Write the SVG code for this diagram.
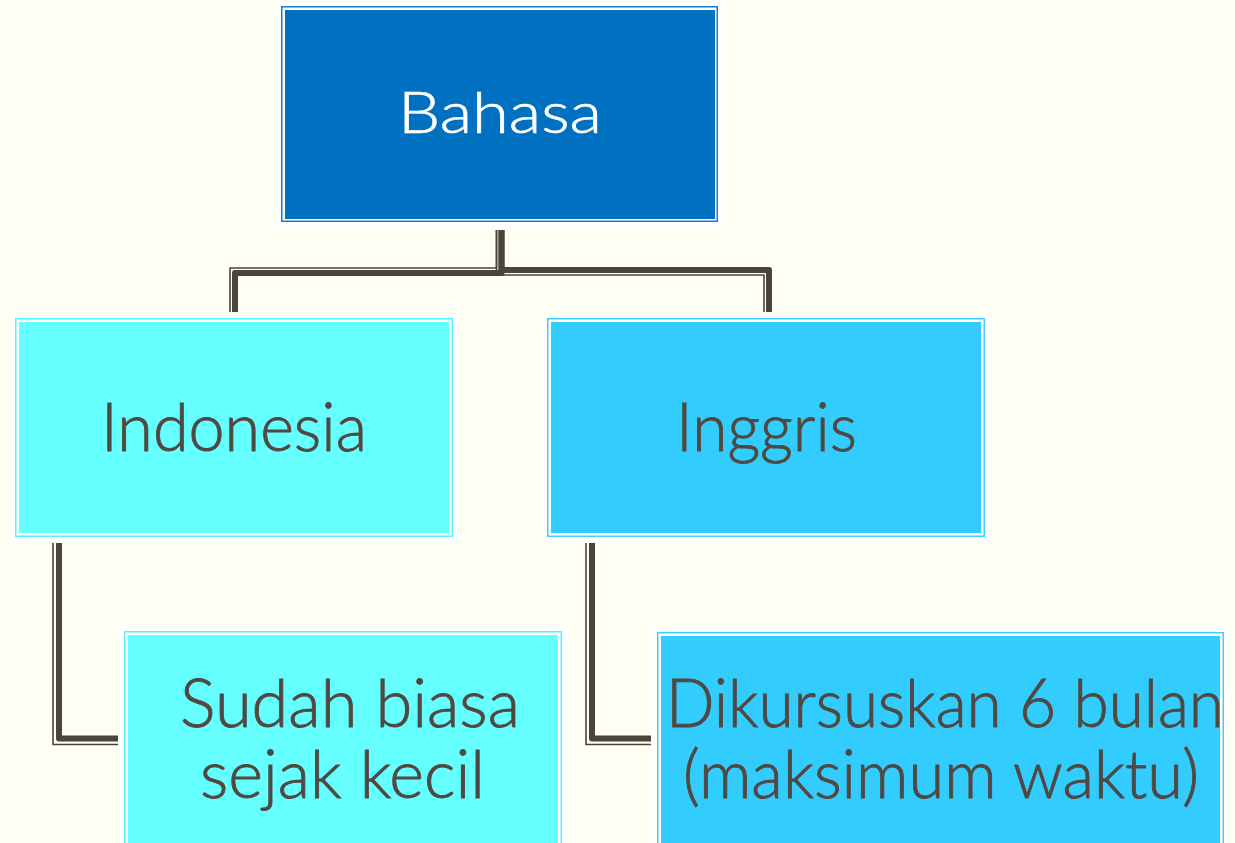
<svg xmlns="http://www.w3.org/2000/svg" width="1235" height="843" viewBox="0 0 1235 843">
<style>
.halo{fill:#ffffff}
.frame{fill:none;stroke-width:1.5}
.t{font-family:Lato,"Open Sans","Liberation Sans",sans-serif;font-weight:300;fill:#514842;stroke:#514842;stroke-width:0.9;text-anchor:middle;font-size:67px}
.tw{fill:#ffffff;stroke:#ffffff;stroke-width:0.7;font-size:57px}
.thick{fill:none;stroke:#4b433d;stroke-width:6;stroke-linejoin:round}
.thin{fill:none;stroke:#4b433d;stroke-width:1.6;stroke-linejoin:round}
</style>
<rect x="0" y="0" width="1235" height="843" fill="#fffff4"/>
<g id="connectors">
<path class="thick" d="M501.5,230 V273 H235 V312"/>
<path class="thin" d="M496.5,230 V268 H230 V312"/>
<path class="thick" d="M501.5,230 V270 H769 V312"/>
<path class="thin" d="M496.5,230 V275 H764 V312"/>
<path class="thick" d="M59,543 V738.5 H118"/>
<path class="thin" d="M53,543 V744.5 H118"/>
<path class="thick" d="M592,543 V738.5 H651"/>
<path class="thin" d="M586,543 V744.5 H651"/>
</g>
<g id="bahasa">
<rect class="halo" x="276" y="1" width="447" height="226"/>
<rect class="frame" stroke="#1a78c8" x="281.75" y="6.75" width="435.5" height="214.5"/>
<rect fill="#0070c0" x="285" y="10" width="430" height="209"/>
<text class="t tw" x="500" y="133" textLength="204" lengthAdjust="spacingAndGlyphs">Bahasa</text>
</g>
<g id="indonesia">
<rect class="halo" x="10" y="313" width="448" height="229"/>
<rect class="frame" stroke="#55f5ff" x="15.75" y="318.75" width="436.5" height="217.5"/>
<rect fill="#66ffff" x="19" y="322" width="430" height="211"/>
<text class="t" x="234" y="451" textLength="266" lengthAdjust="spacingAndGlyphs">Indonesia</text>
</g>
<g id="inggris">
<rect class="halo" x="542" y="313" width="448" height="229"/>
<rect class="frame" stroke="#3fcfff" x="547.75" y="318.75" width="436.5" height="217.5"/>
<rect fill="#33ccff" x="551" y="322" width="430" height="211"/>
<text class="t" x="766.5" y="451" textLength="181" lengthAdjust="spacingAndGlyphs">Inggris</text>
</g>
<g id="sudah">
<rect class="halo" x="119" y="626" width="448" height="240"/>
<rect class="frame" stroke="#55f5ff" x="124.75" y="631.75" width="436.5" height="230"/>
<rect fill="#66ffff" x="128" y="635" width="430" height="230"/>
<text class="t" x="350" y="727" textLength="340" lengthAdjust="spacingAndGlyphs">Sudah biasa</text>
<text class="t" x="342.5" y="798" textLength="285" lengthAdjust="spacingAndGlyphs">sejak kecil</text>
</g>
<g id="dikursuskan">
<rect class="halo" x="652" y="627" width="577" height="240"/>
<rect class="frame" stroke="#3fcfff" x="657.75" y="632.75" width="565.5" height="230"/>
<rect fill="#33ccff" x="661" y="636" width="559" height="230"/>
<text class="t" x="945" y="727" textLength="558" lengthAdjust="spacingAndGlyphs">Dikursuskan 6 bulan</text>
<text class="t" x="941" y="798" textLength="516" lengthAdjust="spacingAndGlyphs">(maksimum waktu)</text>
</g>
</svg>
